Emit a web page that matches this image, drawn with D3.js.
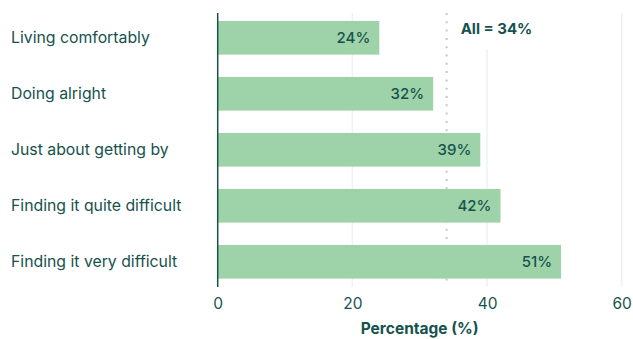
<!DOCTYPE html>
<html>
<head>
<meta charset="utf-8">
<script src="https://cdn.jsdelivr.net/npm/d3@7"></script>
<style>
  html, body { margin: 0; padding: 0; background: #ffffff; }
  svg { display: block; font-family: "Inter", "Lato", sans-serif; }
</style>
</head>
<body>
<svg id="chart" width="633" height="339"></svg>
<script>
// Share of people in each financial situation
const categories = [
  "Living comfortably",
  "Doing alright",
  "Just about getting by",
  "Finding it quite difficult",
  "Finding it very difficult"
];
const values = [24, 32, 39, 42, 51];
const overallValue = 34;
const overallLabel = "All = 34%";
const xTicks = [0, 20, 40, 60];
const xTitle = "Percentage (%)";

const ink = "#16524d";
const barFill = "#9ed2a8";
const gridColor = "#eef2f1";

const svg = d3.select("#chart");

const x = d3.scaleLinear().domain([0, 60]).range([217.7, 621.7]);
const y = d3.scaleBand()
  .domain(categories)
  .range([9.8, 289.8])
  .paddingInner(0.4)
  .paddingOuter(0.2);

const plotTop = 13;
const plotBottom = 287;

// vertical gridlines
svg.append("g")
  .selectAll("line")
  .data(xTicks.filter(d => d > 0))
  .join("line")
  .attr("x1", d => x(d)).attr("x2", d => x(d))
  .attr("y1", plotTop).attr("y2", plotBottom)
  .attr("stroke", gridColor)
  .attr("stroke-width", 1.5);

// reference line for all respondents
svg.append("line")
  .attr("x1", x(overallValue)).attr("x2", x(overallValue))
  .attr("y1", plotTop).attr("y2", plotBottom)
  .attr("stroke", "#bccbcc")
  .attr("stroke-width", 2)
  .attr("stroke-dasharray", "2,6.3");

// label box hides the gridline behind the annotation
svg.append("rect")
  .attr("x", x(overallValue) + 8)
  .attr("y", plotTop)
  .attr("width", 90)
  .attr("height", 36)
  .attr("fill", "#ffffff");

svg.append("text")
  .attr("x", x(overallValue) + 14)
  .attr("y", 34)
  .attr("fill", ink)
  .attr("font-size", 15)
  .attr("font-weight", 700)
  .text(overallLabel);

// bars
svg.append("g")
  .selectAll("rect")
  .data(categories)
  .join("rect")
  .attr("x", x(0))
  .attr("y", d => y(d))
  .attr("width", (d, i) => x(values[i]) - x(0))
  .attr("height", y.bandwidth())
  .attr("fill", barFill);

// value labels inside bar ends
svg.append("g")
  .selectAll("text")
  .data(categories)
  .join("text")
  .attr("x", (d, i) => x(values[i]) - 9)
  .attr("y", d => y(d) + y.bandwidth() / 2)
  .attr("dy", "0.35em")
  .attr("text-anchor", "end")
  .attr("fill", ink)
  .attr("font-size", 15)
  .attr("font-weight", 500)
  .text((d, i) => values[i] + "%");

// category labels
svg.append("g")
  .selectAll("text")
  .data(categories)
  .join("text")
  .attr("x", 11)
  .attr("y", d => y(d) + y.bandwidth() / 2)
  .attr("dy", "0.35em")
  .attr("fill", ink)
  .attr("font-size", 15.8)
  .text(d => d);

// baseline axis
svg.append("line")
  .attr("x1", x(0)).attr("x2", x(0))
  .attr("y1", plotTop).attr("y2", plotBottom)
  .attr("stroke", ink)
  .attr("stroke-width", 1.5);

// x axis tick labels
const xAxis = d3.axisBottom(x).tickValues(xTicks).tickSize(0).tickPadding(0);
const gx = svg.append("g").attr("transform", "translate(0,298)").call(xAxis);
gx.select(".domain").remove();
gx.selectAll("text")
  .attr("fill", ink)
  .attr("font-size", 15.5)
  .attr("font-family", "Inter, Lato, sans-serif");

svg.append("text")
  .attr("x", (x(0) + x(60)) / 2)
  .attr("y", 334)
  .attr("text-anchor", "middle")
  .attr("fill", ink)
  .attr("font-size", 15.5)
  .attr("font-weight", 700)
  .text(xTitle);
</script>
</body>
</html>
